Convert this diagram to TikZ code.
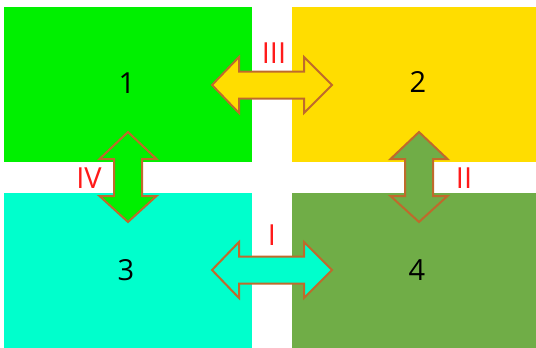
\documentclass[tikz,border=0pt]{standalone}
\usepackage{fontspec}
\setmainfont{Open Sans}
\definecolor{cgreen}{HTML}{00F000}
\definecolor{cyellow}{HTML}{FFDD00}
\definecolor{ccyan}{HTML}{00FFCC}
\definecolor{colive}{HTML}{70AD47}
\definecolor{cline}{HTML}{BF6A2C}
\definecolor{cred}{HTML}{FF1A1A}
\tikzset{
  panel/.style={draw=none},
  num/.style={font=\fontsize{29}{29}\selectfont, text=black, inner sep=0pt},
  roman/.style={font=\fontsize{29}{29}\selectfont, text=cred, inner sep=0pt},
  arrowshape/.style={draw=cline, line width=2pt, line join=miter},
}
\begin{document}
\begin{tikzpicture}[x=1pt,y=-1pt]
\useasboundingbox (0,0) rectangle (536,348);
\fill[white] (0,0) rectangle (536,348);
% panels
\fill[cgreen]  (4,7) rectangle (252,162);
\fill[cyellow] (292,7) rectangle (536,162);
\fill[ccyan]   (4,193) rectangle (252,348);
\fill[colive]  (292,193) rectangle (536,348);
% numbers
\node[num] (n1) at (127,83) {1};
\node[num] (n2) at (418,82) {2};
\node[num] (n3) at (126,270) {3};
\node[num] (n4) at (417,270) {4};
% horizontal arrow III
\fill[cyellow, arrowshape] (212,85) -- (239,57) -- (239,71.5) -- (304,71.5) -- (304,57) -- (332,85)
  -- (304,113) -- (304,98.5) -- (239,98.5) -- (239,113) -- cycle;
% horizontal arrow I
\fill[ccyan, arrowshape] (212,270) -- (239,242) -- (239,256.5) -- (304,256.5) -- (304,242) -- (332,270)
  -- (304,298) -- (304,283.5) -- (239,283.5) -- (239,298) -- cycle;
% vertical arrow IV
\fill[cgreen, arrowshape] (128,132) -- (156.5,159) -- (142,159) -- (142,196) -- (156.5,196) -- (128,222)
  -- (99.5,196) -- (114,196) -- (114,159) -- (99.5,159) -- cycle;
% vertical arrow II
\fill[colive, arrowshape] (419,132) -- (447.5,159) -- (433,159) -- (433,196) -- (447.5,196) -- (419,222)
  -- (390.5,196) -- (405,196) -- (405,159) -- (390.5,159) -- cycle;
% roman labels
\node[roman] (r3) at (274,53) {III};
\node[roman] (r4) at (89,178) {IV};
\node[roman] (r2) at (464,178) {II};
\node[roman] (r1) at (272,235) {I};
\end{tikzpicture}
\end{document}
